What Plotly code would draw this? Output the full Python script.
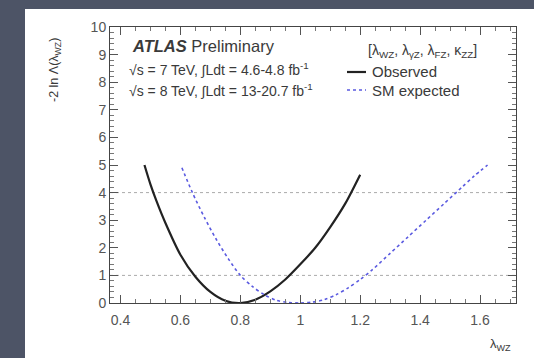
import plotly.graph_objects as go

# Observed curve
obs_x = [0.48, 0.50, 0.52, 0.55, 0.60, 0.65, 0.70, 0.75, 0.80, 0.85, 0.90, 0.95, 1.00, 1.05, 1.10, 1.15, 1.20]
obs_y = [5.0, 4.3, 3.7, 2.9, 1.75, 0.95, 0.40, 0.08, 0.0, 0.12, 0.42, 0.85, 1.4, 2.0, 2.75, 3.6, 4.65]

# SM expected curve
exp_x = [0.605, 0.64, 0.68, 0.72, 0.76, 0.80, 0.84, 0.88, 0.92, 0.96, 1.00, 1.04, 1.08, 1.12, 1.16, 1.20, 1.24, 1.30, 1.36, 1.42, 1.48, 1.54, 1.58, 1.625]
exp_y = [4.9, 4.0, 3.1, 2.3, 1.6, 1.0, 0.6, 0.3, 0.1, 0.02, 0.0, 0.03, 0.12, 0.3, 0.55, 0.85, 1.2, 1.8, 2.4, 3.0, 3.6, 4.2, 4.6, 5.0]

ref_levels = [1, 4]
x_ticks = [0.4, 0.6, 0.8, 1.0, 1.2, 1.4, 1.6]
x_ticklabels = ["0.4", "0.6", "0.8", "1", "1.2", "1.4", "1.6"]
y_ticks = list(range(0, 11))

W, H = 534, 358
L, R, T, B = 110, 18, 27, 55
pw = W - L - R
ph = H - T - B

def px_to_paper_x(px):
    return (px - L) / pw

def px_to_paper_y(py):
    return (H - B - py) / ph

FONT = "Liberation Sans, Arial, sans-serif"
TXT = "#3a3a3a"

fig = go.Figure()
fig.add_trace(go.Scatter(x=obs_x, y=obs_y, mode="lines", name="Observed", showlegend=False,
                         line=dict(color="#222222", width=2.2, shape="spline", smoothing=0.8)))
fig.add_trace(go.Scatter(x=exp_x, y=exp_y, mode="lines", name="SM expected", showlegend=False,
                         line=dict(color="#5a5ae0", width=1.6, dash="dot", shape="spline", smoothing=0.8)))

shapes = []
# white panel
shapes.append(dict(type="rect", xref="paper", yref="paper",
                   x0=px_to_paper_x(25), x1=px_to_paper_x(540),
                   y0=px_to_paper_y(365), y1=px_to_paper_y(9),
                   fillcolor="white", line=dict(width=0), layer="below"))
for lv in ref_levels:
    shapes.append(dict(type="line", xref="paper", yref="y", x0=0, x1=1, y0=lv, y1=lv,
                       line=dict(color="#aaaaaa", width=1, dash="dot"), layer="below"))
# legend samples
shapes.append(dict(type="line", xref="paper", yref="paper",
                   x0=px_to_paper_x(347), x1=px_to_paper_x(366),
                   y0=px_to_paper_y(72), y1=px_to_paper_y(72),
                   line=dict(color="#222222", width=2.2)))
shapes.append(dict(type="line", xref="paper", yref="paper",
                   x0=px_to_paper_x(347), x1=px_to_paper_x(366),
                   y0=px_to_paper_y(90), y1=px_to_paper_y(90),
                   line=dict(color="#5a5ae0", width=1.6, dash="dot")))

def txt(text, x, y, size, xanchor="left", angle=0):
    return dict(text=text, x=px_to_paper_x(x), y=px_to_paper_y(y), xref="paper", yref="paper",
                xanchor=xanchor, yanchor="middle", showarrow=False, textangle=angle,
                font=dict(family=FONT, size=size, color=TXT))

annotations = [
    txt("<b><i>ATLAS</i></b> Preliminary", 130, 46, 16.5),
    txt("√s = 7 TeV, ∫Ldt = 4.6-4.8 fb<sup>-1</sup>", 127, 69, 14),
    txt("√s = 8 TeV, ∫Ldt = 13-20.7 fb<sup>-1</sup>", 127, 90, 14),
    txt("[λ<sub>WZ</sub>, λ<sub>γZ</sub>, λ<sub>FZ</sub>, κ<sub>ZZ</sub>]", 366, 51, 14),
    txt("Observed", 370, 72, 15),
    txt("SM expected", 370, 90, 15),
    txt("-2 ln Λ(λ<sub>WZ</sub>)", 45, 70, 12.5, xanchor="left", angle=-90),
    txt("λ<sub>WZ</sub>", 500, 344, 13, xanchor="center"),
]

axis_common = dict(showline=True, linecolor="#444444", linewidth=1, mirror="ticks",
                   ticks="inside", ticklen=8, tickcolor="#555555", showgrid=False, zeroline=False,
                   tickfont=dict(family=FONT, size=14, color="#555555"))

fig.update_layout(
    width=W, height=H,
    margin=dict(l=L, r=R, t=T, b=B),
    paper_bgcolor="#4d5466", plot_bgcolor="white",
    shapes=shapes, annotations=annotations,
    showlegend=False,
    xaxis=dict(range=[0.365, 1.72], tickvals=x_ticks, ticktext=x_ticklabels,
               ticklabelstandoff=4,
               minor=dict(dtick=0.05, ticks="inside", ticklen=4, tickcolor="#777777"),
               **axis_common),
    yaxis=dict(range=[0, 10], tickvals=y_ticks,
               minor=dict(dtick=0.2, ticks="inside", ticklen=4, tickcolor="#777777"),
               **axis_common),
)

fig.write_html("out.html")
